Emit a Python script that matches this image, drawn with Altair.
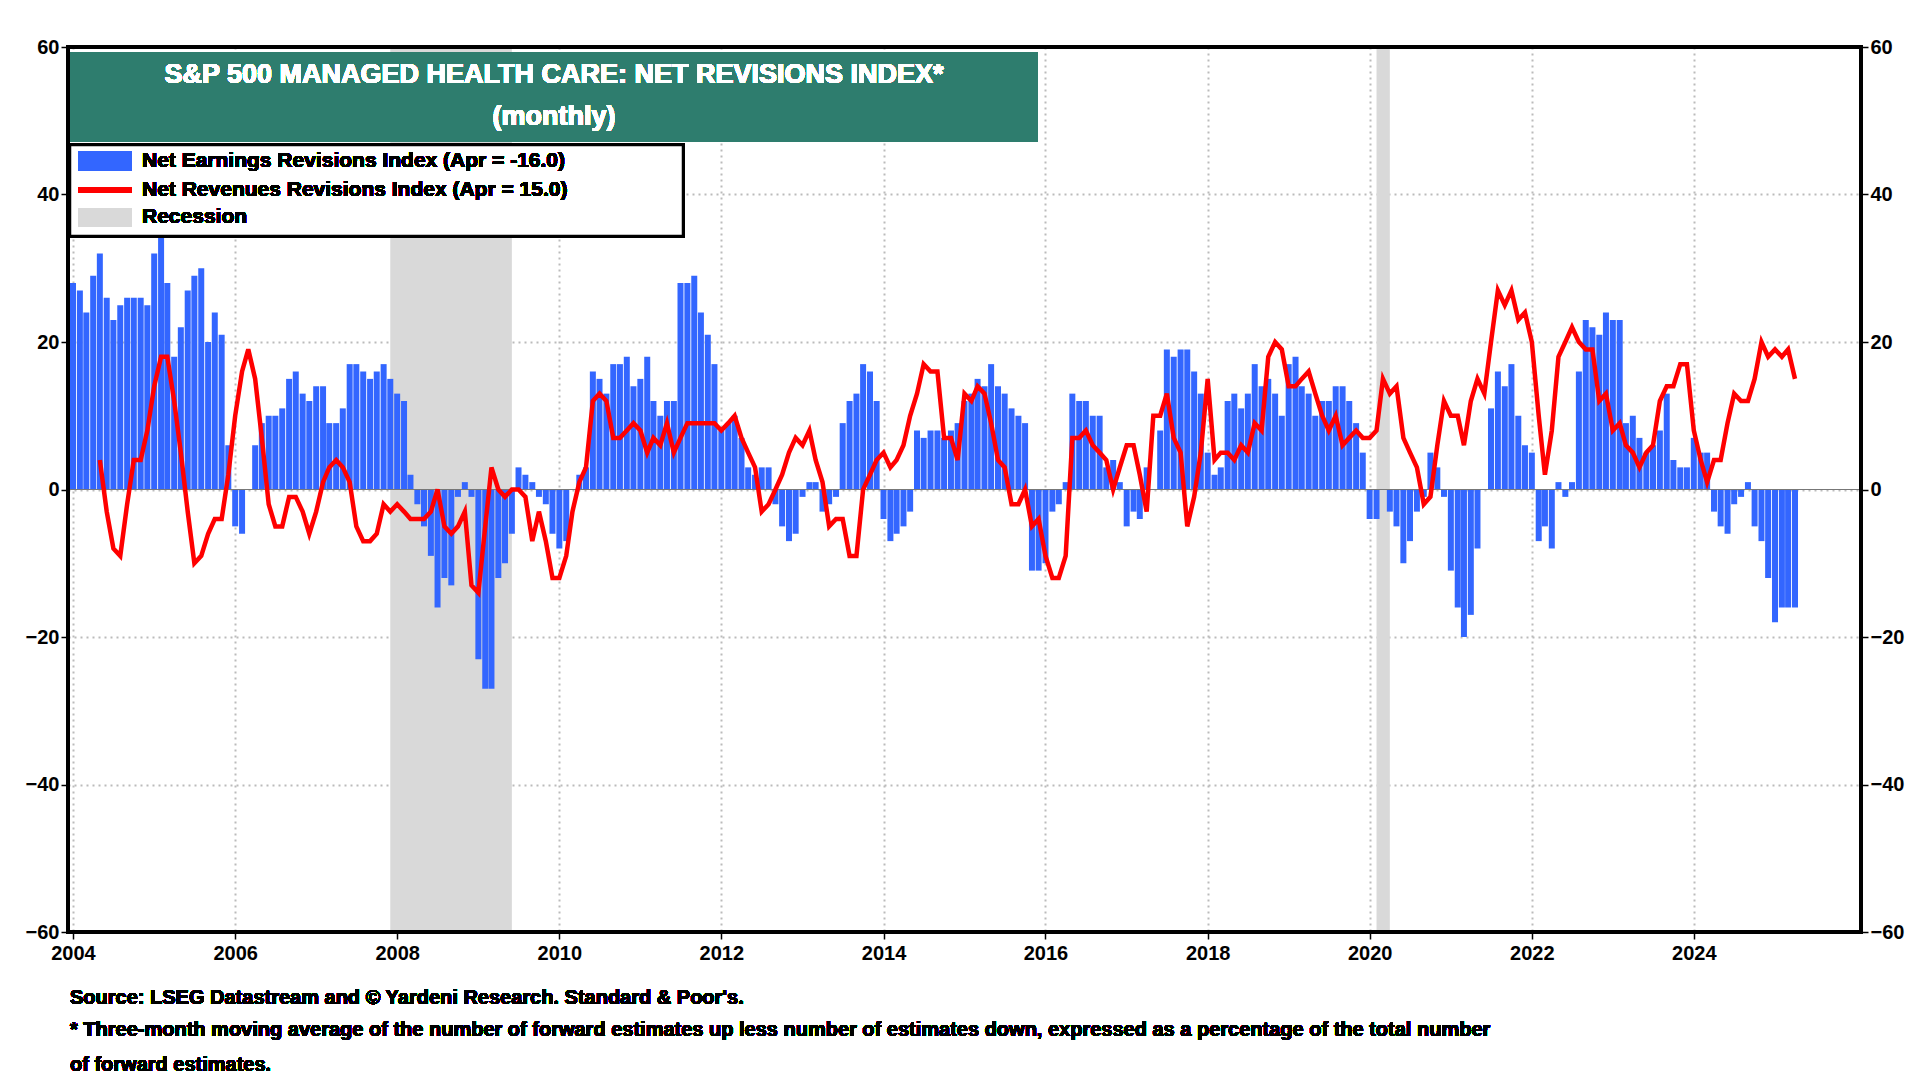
import altair as alt
import pandas as pd

earn = [
    28, 27, 24, 29, 32, 26, 23, 25, 26, 26, 26, 25,   # 2004
    32, 35, 28, 18, 22, 27, 29, 30, 20, 24, 21, 6,    # 2005
    -5, -6, 0, 6, 9, 10, 10, 11, 15, 16, 13, 12,      # 2006
    14, 14, 9, 9, 11, 17, 17, 16, 15, 16, 17, 15,     # 2007
    13, 12, 2, -2, -5, -9, -16, -12, -13, -1, 1, -1,  # 2008
    -23, -27, -27, -12, -10, -6, 3, 2, 1, -1, -2, -6, # 2009
    -8, -7, 0, 2, 3, 16, 15, 13, 17, 17, 18, 14,      # 2010
    15, 18, 12, 10, 12, 12, 28, 28, 29, 24, 21, 17,   # 2011
    8, 9, 10, 7, 3, 2, 3, 3, -2, -5, -7, -6,          # 2012
    -1, 1, 1, -3, -2, -1, 9, 12, 13, 17, 16, 12,      # 2013
    -4, -7, -6, -5, -3, 8, 7, 8, 8, 7, 8, 9,          # 2014
    12, 13, 15, 14, 17, 14, 13, 11, 10, 9, -11, -11,  # 2015
    -10, -3, -2, 1, 13, 12, 12, 10, 10, 3, 4, 1,      # 2016
    -5, -3, -4, 3, 0, 8, 19, 18, 19, 19, 16, 13,      # 2017
    5, 2, 3, 12, 13, 11, 13, 17, 14, 15, 13, 10,      # 2018
    17, 18, 14, 13, 10, 12, 12, 14, 14, 12, 9, 5,     # 2019
    -4, -4, 0, -3, -5, -10, -7, -3, -1, 5, 3, -1,     # 2020
    -11, -16, -20, -17, -8, 0, 11, 16, 14, 17, 10, 6, # 2021
    5, -7, -5, -8, 1, -1, 1, 16, 23, 22, 21, 24,      # 2022
    23, 23, 9, 10, 7, 5, 6, 8, 13, 4, 3, 3,           # 2023
    7, 5, 5, -3, -5, -6, -2, -1, 1, -5, -7, -12,      # 2024
    -18, -16, -16, -16,                               # 2025
]

rev = [
    None, None, None, None, 4, -3, -8, -9, -2, 4, 4, 8,  # 2004
    14, 18, 18, 12, 5, -3, -10, -9, -6, -4, -4, 2,       # 2005
    10, 16, 19, 15, 7, -2, -5, -5, -1, -1, -3, -6,       # 2006
    -3, 1, 3, 4, 3, 1, -5, -7, -7, -6, -2, -3,           # 2007
    -2, -3, -4, -4, -4, -3, 0, -5, -6, -5, -3, -13,      # 2008
    -14, -5, 3, 0, -1, 0, 0, -1, -7, -3, -7, -12,        # 2009
    -12, -9, -3, 1, 3, 12, 13, 12, 7, 7, 8, 9,           # 2010
    8, 5, 7, 6, 9, 5, 7, 9, 9, 9, 9, 9,                  # 2011
    8, 9, 10, 7, 5, 3, -3, -2, 0, 2, 5, 7,               # 2012
    6, 8, 4, 1, -5, -4, -4, -9, -9, 0, 2, 4,             # 2013
    5, 3, 4, 6, 10, 13, 17, 16, 16, 7, 7, 4,             # 2014
    13, 12, 14, 13, 9, 4, 3, -2, -2, 0, -5, -4,          # 2015
    -9, -12, -12, -9, 7, 7, 8, 6, 5, 4, 0, 3,            # 2016
    6, 6, 2, -3, 10, 10, 13, 7, 5, -5, -1, 5,            # 2017
    15, 4, 5, 5, 4, 6, 5, 9, 8, 18, 20, 19,              # 2018
    14, 14, 15, 16, 13, 10, 8, 10, 6, 7, 8, 7,           # 2019
    7, 8, 15, 13, 14, 7, 5, 3, -2, -1, 6, 12,            # 2020
    10, 10, 6, 12, 15, 13, 20, 27, 25, 27, 23, 24,       # 2021
    20, 10, 2, 8, 18, 20, 22, 20, 19, 19, 12, 13,        # 2022
    8, 9, 6, 5, 3, 5, 6, 12, 14, 14, 17, 17,             # 2023
    8, 4, 1, 4, 4, 9, 13, 12, 12, 15, 20, 18,            # 2024
    19, 18, 19, 15,                                      # 2025
]

rec_start = ["2007-12-01", "2020-02-01"]
rec_end = ["2009-06-01", "2020-04-01"]

legend_labels = ["Net Earnings Revisions Index (Apr  = -16.0)",
                 "Net Revenues Revisions Index (Apr  = 15.0)", "Recession"]
footnotes = ["Source: LSEG Datastream and \u00a9 Yardeni Research. Standard & Poor's.",
             "* Three-month moving average of the number of forward estimates up less number of estimates down, expressed as a percentage of the total number",
             "  of forward estimates."]

dates = pd.date_range("2004-01-01", periods=len(earn), freq="MS")
df = pd.DataFrame({"date": dates, "earn": earn, "rev": rev})
rec = pd.DataFrame({"start": pd.to_datetime(rec_start), "end": pd.to_datetime(rec_end)})

FONT = "Liberation Sans"
W, H = 1793, 885
xs = alt.Scale(domain=["2004-01-01T00:00:00", "2026-01-01T00:00:00"])
ys = alt.Scale(domain=[-60, 60], nice=False)

xax = alt.Axis(format="%Y", values=[f"{y}-01-01T00:00:00" for y in range(2004, 2026, 2)],
               grid=True, gridDash=[2, 4], gridColor="#bbbbbb", gridWidth=2,
               labelFontSize=20, labelFontWeight="bold", labelFont=FONT, title=None,
               tickSize=7, domain=False, labelPadding=4)
yax_l = alt.Axis(values=list(range(-60, 61, 20)), grid=True, gridDash=[2, 4], gridColor="#bbbbbb",
                 gridWidth=2, labelFontSize=20, labelFontWeight="bold", labelFont=FONT,
                 title=None, tickSize=7, domain=False)
yax_r = alt.Axis(values=list(range(-60, 61, 20)), grid=False, orient="right", labelFontSize=20,
                 labelFontWeight="bold", labelFont=FONT, title=None, tickSize=7, domain=False)

base = alt.Chart(df)

recession = alt.Chart(rec).mark_rect(color="#d9d9d9").encode(
    x=alt.X("start:T", scale=xs, axis=xax), x2="end:T",
    y=alt.value(0), y2=alt.value(H))

bars = base.mark_bar(color="#3366ff", width=6).encode(
    x=alt.X("date:T", scale=xs), y=alt.Y("earn:Q", scale=ys, axis=yax_l), y2=alt.datum(0))

zero = base.mark_rule(color="#777777", strokeWidth=1).encode(
    x=alt.value(0), x2=alt.value(W), y=alt.value(H / 2))

line = base.mark_line(color="#ff0000", strokeWidth=4.5).encode(
    x=alt.X("date:T", scale=xs), y=alt.Y("rev:Q", scale=ys, axis=yax_r))

frame = base.mark_rect(fill=None, stroke="black", strokeWidth=3).encode(
    x=alt.value(0), x2=alt.value(W), y=alt.value(0), y2=alt.value(H))

# title box
tbox = base.mark_rect(color="#2e7d6e").encode(
    x=alt.value(2), x2=alt.value(970), y=alt.value(5), y2=alt.value(95))
t1 = base.mark_text(color="white", fontSize=27, fontWeight="bold", font=FONT).encode(
    x=alt.value(486), y=alt.value(28), text=alt.value("S&P 500 MANAGED HEALTH CARE: NET REVISIONS INDEX*"))
t2 = base.mark_text(color="white", fontSize=27, fontWeight="bold", font=FONT).encode(
    x=alt.value(486), y=alt.value(70), text=alt.value("(monthly)"))

# legend box
lbox = base.mark_rect(fill="white", stroke="black", strokeWidth=2.5).encode(
    x=alt.value(2), x2=alt.value(615), y=alt.value(98), y2=alt.value(189))
lg_bar = base.mark_rect(color="#3366ff").encode(
    x=alt.value(10), x2=alt.value(64), y=alt.value(104), y2=alt.value(124))
lg_line = base.mark_rule(color="#ff0000", strokeWidth=4.5).encode(
    x=alt.value(10), x2=alt.value(64), y=alt.value(143))
lg_rec = base.mark_rect(color="#d9d9d9").encode(
    x=alt.value(10), x2=alt.value(64), y=alt.value(161), y2=alt.value(180))

texts = []
for lab, py in zip(legend_labels, [114, 143, 170]):
    texts.append(base.mark_text(align="left", fontSize=21, fontWeight="bold", font=FONT).encode(
        x=alt.value(74), y=alt.value(py), text=alt.value(lab)))
for lab, py in zip(footnotes, [951, 983, 1018]):
    texts.append(base.mark_text(align="left", fontSize=20, fontWeight="bold", font=FONT).encode(
        x=alt.value(2), y=alt.value(py), text=alt.value(lab)))

chart = alt.layer(
    recession, bars, zero, line, frame, tbox, t1, t2,
    lbox, lg_bar, lg_line, lg_rec, *texts
).resolve_scale(y="independent").properties(
    width=W, height=H, autosize=alt.AutoSizeParams(type="none"),
    padding={"left": 60, "top": 39, "right": 50, "bottom": 140}
).configure_view(stroke=None).configure_axis(tickColor="black", tickWidth=1.5)

chart.save("out.html", embed_options={"renderer": "svg", "actions": False})
